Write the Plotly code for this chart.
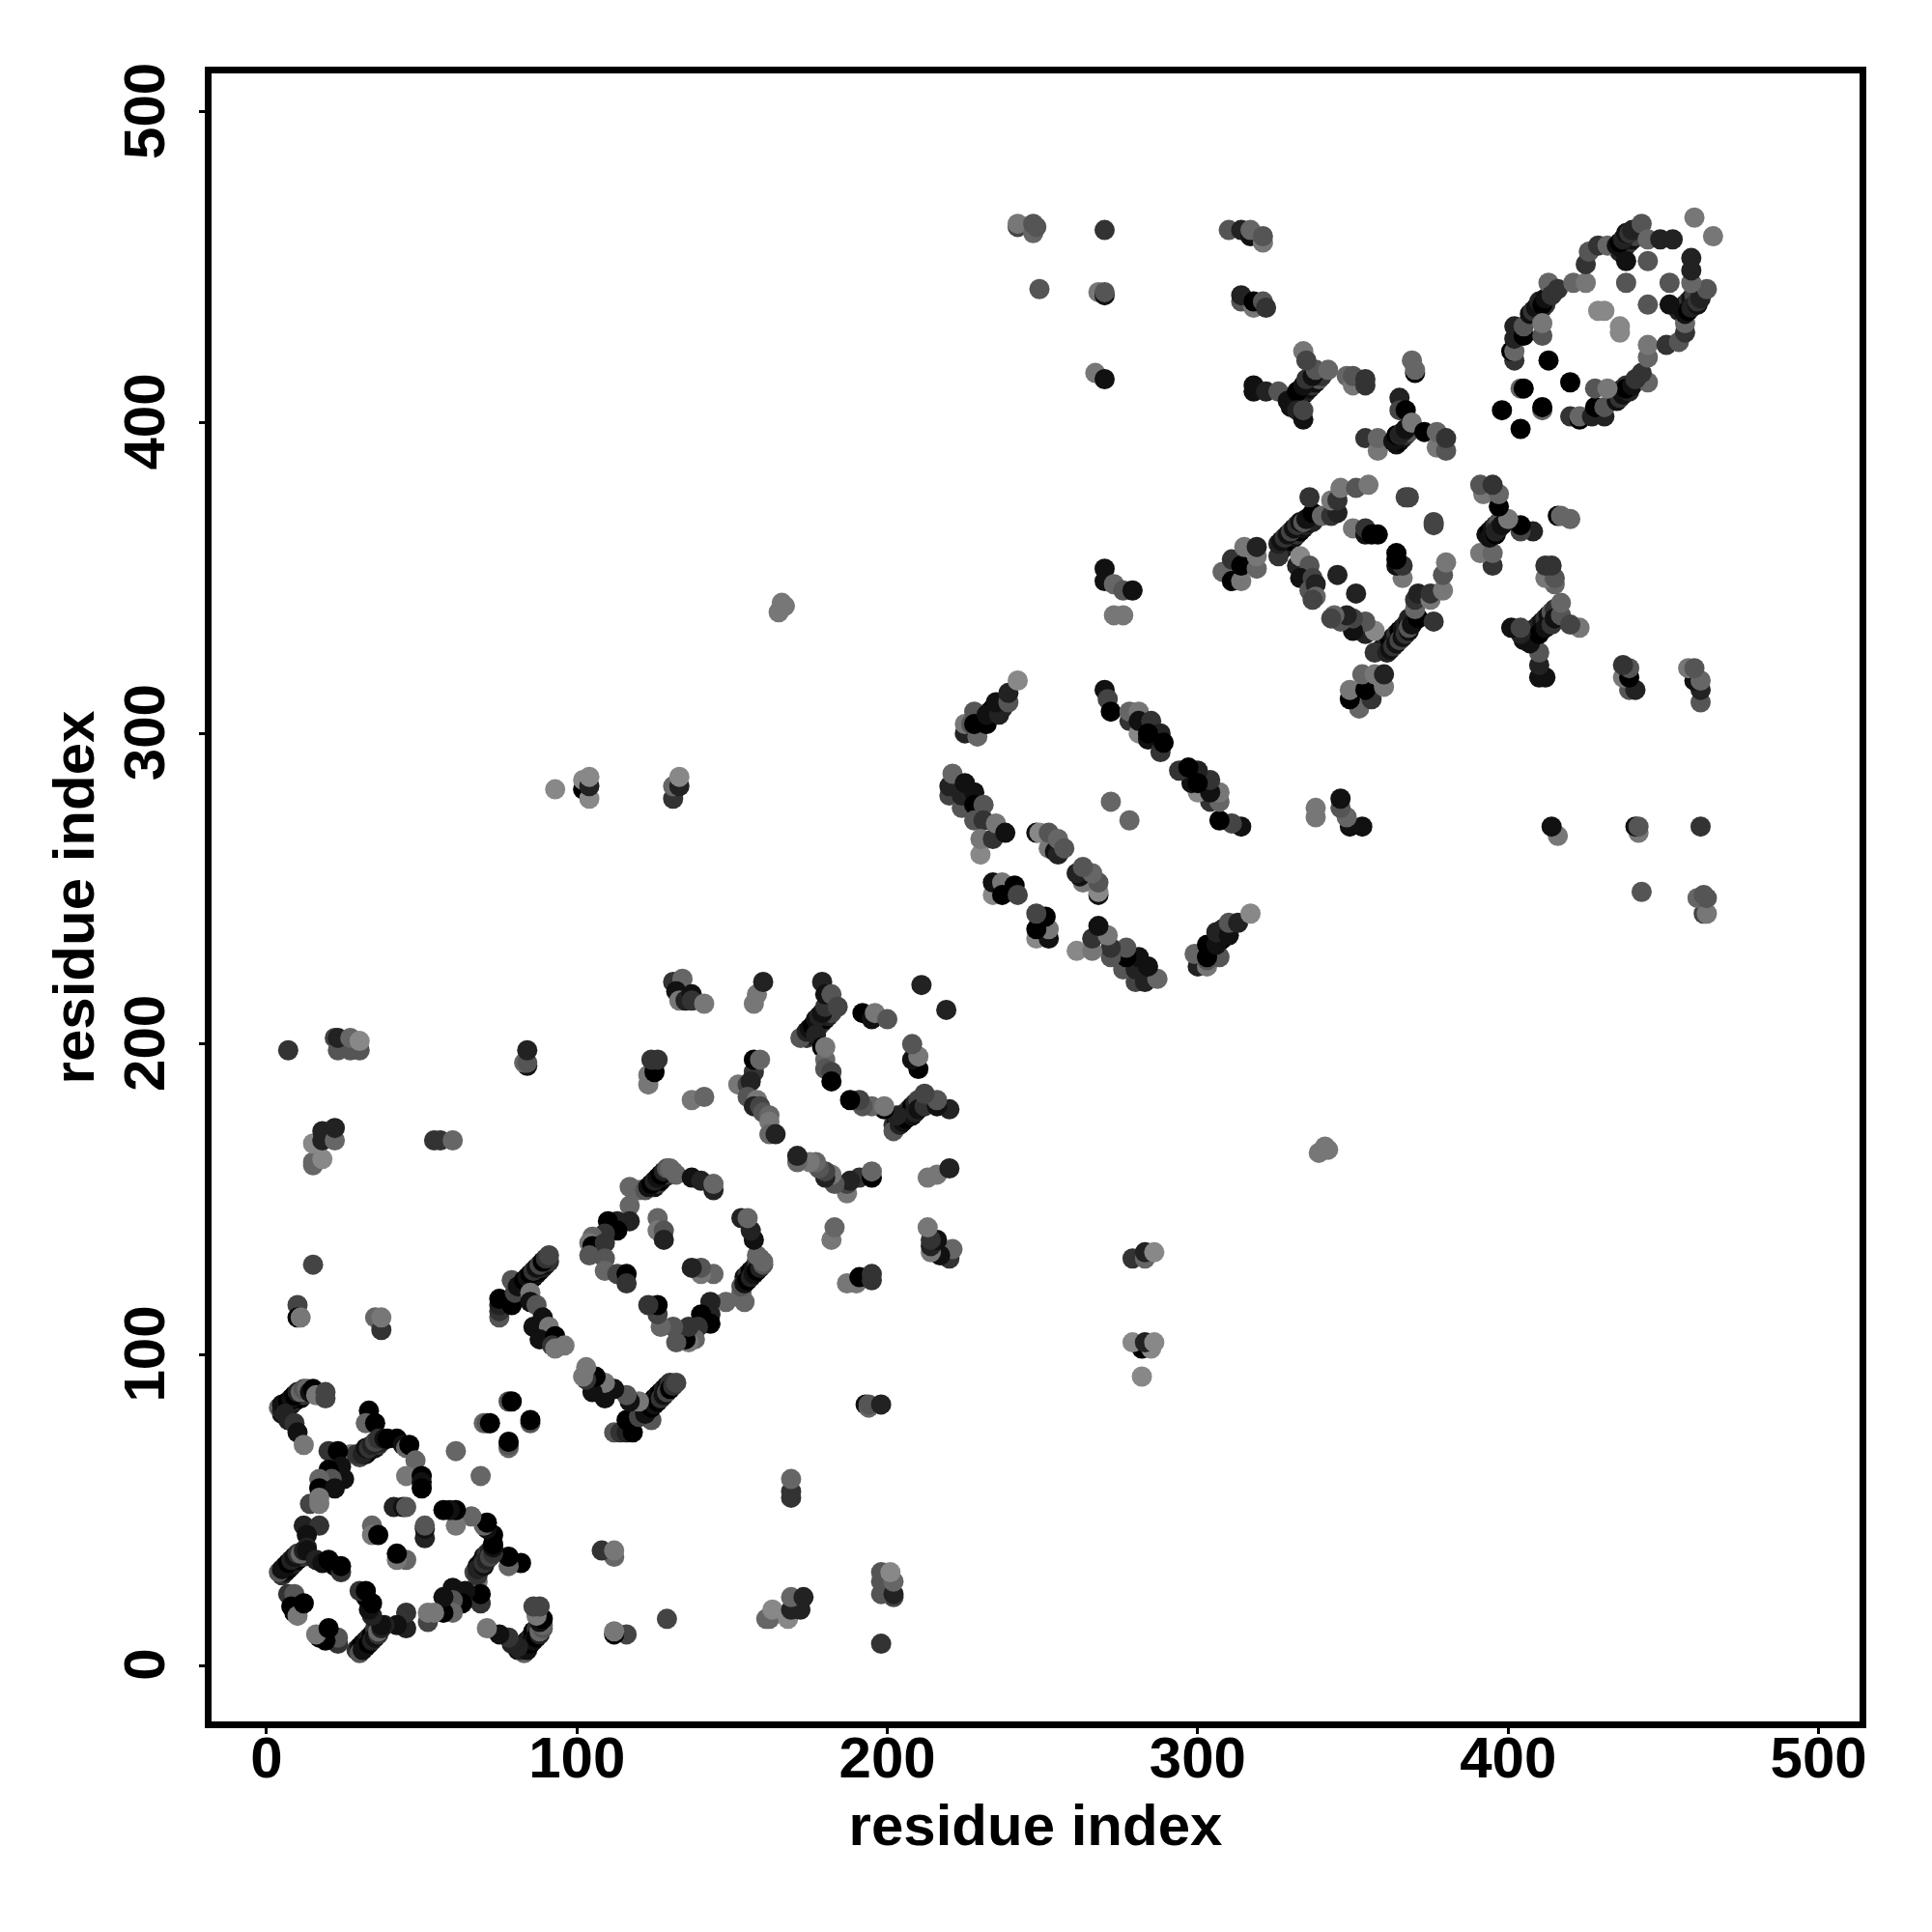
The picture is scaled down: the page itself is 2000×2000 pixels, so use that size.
import plotly.graph_objects as go

# Contact pairs: residue i, residue j (i < j), shade level 0 (black) .. 8 (mid grey).
# Second rows of the thick helix bands
ha_i = [5,6,7,8,9,10,11,12,30,32,33,34,35,36,37]
ha_j = [81,82,83,84,85,86,86,87,67,68,69,70,70,71,72]
ha_s = [1,0,0,1,2,1,0,3,4,1,0,2,1,3,2]
he_i = [5,6,7,8,9,10,11,12,13,84,85,86,87,88,89,90,91]
he_j = [29,30,31,32,33,34,35,35,36,123,124,125,126,127,128,129,130]
he_s = [3,1,0,1,2,0,1,3,2,1,2,0,1,0,2,1,3]
hr_i = [125,126,127,128,129,130,131,174,175,176,177,178,179,180,181,182]
hr_j = [154,155,156,157,158,158,159,202,203,204,205,206,207,208,209,210]
hr_s = [1,3,0,1,2,3,6,3,1,2,0,1,3,0,2,4]
hq_i = [229,230,233,234,235,237]
hq_j = [304,305,307,308,307,308]
hq_s = [1,2,1,0,1,2]
hy_i = [327,328,329,330,331,332,333,334,335,336,337]
hy_j = [359,360,361,362,363,364,365,366,367,368,368]
hy_s = [3,1,2,0,1,3,0,1,2,0,2]
hz_i = [330,331,332,333,334,335,336,337,338,339,340]
hz_j = [405,406,407,408,409,410,411,412,413,414,415]
hz_s = [1,0,1,3,0,2,1,3,1,5,3]
hb_i = [364,365,366,367,368,408,409,410,411,412,436,437,438,439,440,441,442]
hb_j = [393,394,395,396,397,434,435,436,437,438,455,456,457,458,459,460,462]
hb_s = [1,0,1,3,5,1,0,2,1,3,2,0,1,3,1,4,3]

a_i = [4,5,5,6,7,8,9,10,11,12,13,14,15,16,19,19,6,7,9,10,12]
a_j = [83,82,84,84,85,86,87,88,88,89,89,88,89,87,88,86,81,79,78,75,71]
a_s = [6,2,1,1,0,1,0,2,6,5,6,1,0,7,4,4,2,2,3,1,7]
b_i = [33,32,35,27,29,31,32,33,34,35,36,38,39,42,44,45,46,48,45,50,50,50]
b_j = [82,78,78,68,68,68,70,70,71,72,73,73,73,73,71,70,71,66,61,61,59,57]
b_s = [0,6,0,7,3,2,1,3,2,4,3,1,0,0,1,6,0,6,7,0,1,0]
c_i = [20,23,24,25,22,20,21,17,17,22,14,17,17]
c_j = [69,69,64,60,63,63,60,60,57,57,52,54,52]
c_s = [3,0,1,1,1,0,5,6,0,1,4,7,7]
d_i = [41,44,45,34,34,36]
d_j = [51,51,51,45,42,42]
d_s = [2,1,5,6,7,0]
e_i = [12,17,13,4,5,6,7,8,9,10,11,12,13,13,16,18,20,22,24,24]
e_j = [45,45,42,30,31,32,33,34,35,36,36,37,38,37,34,33,34,32,30,32]
e_s = [2,3,1,5,1,1,0,2,1,3,6,2,2,1,2,1,0,0,3,0]
f_i = [7,9,8,9,10,12]
f_j = [23,23,19,17,16,20]
f_s = [3,5,0,0,7,0]
g_i = [61,70,71,72,78,79,15,10,10,11,35,37,37]
g_j = [69,78,78,78,85,85,129,116,112,112,112,108,112]
g_s = [6,6,5,0,5,0,4,4,0,7,6,3,7]
h_i = [75,75,75,75,79,79,80,81,83,84,85,86,87,88,89,90,91,85,85,87,89,86,91,88,93,92,93,96]
h_j = [112,114,116,118,116,124,120,122,124,125,126,127,128,129,130,131,132,120,117,116,112,109,109,105,106,103,102,103]
h_s = [5,3,2,0,0,5,4,1,0,1,0,3,1,4,0,3,4,7,1,5,1,1,7,1,0,3,7,7]
ring_i = [117,120,122,123,124,125,126,127,128,129,130,132,137,140,144,144,117,117,113,113,110,109,105,104,105,109,104,109,109,113,116,116,126,126,128,128]
ring_j = [154,153,153,154,155,156,157,158,159,160,160,158,157,156,153,155,148,143,143,140,143,139,138,136,135,136,132,131,127,126,126,123,144,140,140,137]
ring_s = [6,6,5,1,0,2,1,0,2,5,6,6,1,2,2,6,6,2,2,0,0,3,6,7,0,3,5,5,6,4,0,3,6,7,5,2]
j1_i = [131,134,132,133,135,137,137,141,157,158,160]
j1_j = [220,221,217,214,214,216,214,213,213,216,220]
j1_s = [3,6,1,7,2,1,3,7,7,7,2]
k_i = [172,174,175,176,177,178,179,180,179,180,182,184,177,179,180,180,180,182,182]
k_j = [202,204,205,206,208,209,210,212,220,216,216,212,203,199,195,199,192,191,188]
k_s = [5,2,1,0,1,2,1,3,2,1,5,4,2,0,6,7,5,4,0]
l_i = [192,195,196,200,211,123,123,125,124,126,137,141]
l_j = [210,208,210,208,219,187,190,191,195,195,182,183]
l_s = [0,1,7,5,2,7,7,0,3,3,7,6]
m_i = [157,157,159,152,155,156,155,158,157,159,160,162,162,162,164]
m_j = [191,195,195,187,187,188,183,182,180,180,178,177,175,171,171]
m_s = [3,0,6,7,4,2,5,7,2,4,5,6,7,6,2]
n_i = [7,22,23,27,30,23,27,30,84,83,84,84]
n_j = [198,202,198,198,198,202,202,201,193,194,194,198]
n_s = [3,4,5,5,5,2,6,8,1,6,5,2]
o_i = [15,15,18,15,18,18,22,22,54,56,60]
o_j = [161,162,163,168,169,172,169,173,169,169,169]
o_s = [6,6,8,8,2,2,6,2,3,3,6]
p_i = [93,102,102,104,104,104,131,131,133,133,165,166,167]
p_j = [282,282,285,279,283,286,279,283,283,286,339,342,341]
p_s = [8,0,8,8,2,8,3,6,2,8,7,7,7]
q_i = [225,225,227,229,228,228,232,232,236,235,239,239,242]
q_j = [300,303,303,299,307,303,303,306,306,310,310,313,317]
q_s = [2,7,5,6,5,0,0,1,2,1,5,2,8]
r_i = [270,271,272,278,278,281,281,281,285,288,284,284,288,289]
r_j = [314,311,307,304,307,307,300,304,304,300,298,300,294,297]
r_s = [1,4,0,3,6,7,8,1,3,2,1,0,3,0]
s_i = [220,220,221,224,224,225,228,228,231,228,231,230,230,234,235,238]
s_j = [280,283,287,276,280,284,281,277,277,272,272,261,266,266,271,268]
s_s = [4,2,6,5,2,1,1,0,5,5,3,8,7,3,7,1]
t_i = [248,249,252,254,255,252,255,257,234,234,237,237,241,242,272]
t_j = [268,268,263,262,261,268,266,263,248,252,252,248,251,248,278]
t_s = [1,8,7,1,2,5,6,5,8,1,7,0,0,4,6]
u_i = [267,270,268,270,270,270,249,242,242,247,247,248]
u_j = [416,414,442,441,442,462,443,463,464,461,464,463]
u_s = [7,1,7,1,5,3,5,4,7,6,5,5]
v_i = [270,270,273,276,279,273,276]
v_j = [353,349,348,346,346,338,338]
v_s = [1,1,6,5,1,7,7]
w_i = [310,314,317,317,321,321,314,314,318,318,321,322]
w_j = [462,462,460,462,458,460,439,441,437,439,439,437]
w_s = [5,2,1,6,7,5,5,2,7,0,5,3]
x_i = [308,311,314,311,314,315,319,319,319]
x_j = [352,349,349,356,354,360,353,357,360]
x_s = [6,0,7,3,0,7,6,7,2]
y_i = [326,326,327,328,329,330,331,332,333,334,335,337,336,340,343,345,343,345,346,351,355,332,333,336,333,337,336,338,338,337,345,350,354,354,356,358,367,368]
y_j = [357,361,362,363,364,365,366,367,368,368,369,371,376,370,370,371,375,375,379,379,380,354,357,354,350,350,346,348,344,343,351,366,364,366,364,364,376,376]
y_s = [3,2,1,3,1,4,1,3,1,5,1,0,3,6,3,2,7,3,7,5,7,2,8,5,1,4,5,2,6,4,2,7,1,3,0,0,4,4]
z_i = [318,318,322,326,329,331,332,334,335,337,338,342,334,335,332,334,334,348,350,350,354,354]
z_j = [412,410,410,410,407,408,410,412,414,415,417,417,423,420,404,401,404,415,412,415,412,414]
z_s = [1,1,2,5,1,1,0,1,3,1,5,6,7,4,2,1,4,6,7,5,3,3]
aa_i = [369,370,370,365,365,367,354,358,358,363,364,365,366,367,369,373,377,377,380,380]
aa_j = [420,416,417,408,404,404,395,391,395,394,396,396,397,398,400,397,392,397,391,395]
aa_s = [6,0,6,2,4,0,3,7,6,1,0,2,2,1,7,0,7,6,5,3]
bb_i = [402,401,402,402,402,405,405,407,408,409,410,411,412,411,411,413,414,416,421,425,425,426,429,432,435,436,437,438,439,440,443,445,449,453]
bb_j = [420,423,423,427,431,428,431,435,436,437,439,438,440,428,432,445,441,443,445,445,451,455,457,457,457,458,459,461,461,462,464,459,459,459]
bb_s = [3,0,6,2,2,0,5,1,3,1,2,0,1,5,7,6,3,3,6,7,3,5,3,6,1,0,2,1,3,2,5,6,2,2]
cc_i = [413,404,405,398,429,431,438,445,438,460]
cc_j = [420,411,411,404,436,436,452,452,445,466]
cc_s = [0,6,0,0,8,8,1,5,5,7]

tick_values = [0, 100, 200, 300, 400, 500]
axis_title = "residue index"

blocks = [(ha_i,ha_j,ha_s),(he_i,he_j,he_s),(hr_i,hr_j,hr_s),(hq_i,hq_j,hq_s),(hy_i,hy_j,hy_s),(hz_i,hz_j,hz_s),(hb_i,hb_j,hb_s),
          (a_i,a_j,a_s),(b_i,b_j,b_s),(c_i,c_j,c_s),(d_i,d_j,d_s),(e_i,e_j,e_s),(f_i,f_j,f_s),
          (g_i,g_j,g_s),(h_i,h_j,h_s),(ring_i,ring_j,ring_s),(j1_i,j1_j,j1_s),(k_i,k_j,k_s),
          (l_i,l_j,l_s),(m_i,m_j,m_s),(n_i,n_j,n_s),(o_i,o_j,o_s),(p_i,p_j,p_s),(q_i,q_j,q_s),
          (r_i,r_j,r_s),(s_i,s_j,s_s),(t_i,t_j,t_s),(u_i,u_j,u_s),(v_i,v_j,v_s),(w_i,w_j,w_s),
          (x_i,x_j,x_s),(y_i,y_j,y_s),(z_i,z_j,z_s),(aa_i,aa_j,aa_s),(bb_i,bb_j,bb_s),(cc_i,cc_j,cc_s)]

pairs = []
for n, (bi, bj, bs) in enumerate(blocks):
    assert len(bi) == len(bj) == len(bs), n
    pairs.extend(zip(bi, bj, bs))

# A contact map is symmetric: each pair is drawn on both sides of the diagonal.
xs = [p[0] for p in pairs] + [p[1] for p in pairs]
ys = [p[1] for p in pairs] + [p[0] for p in pairs]
shade = [p[2] for p in pairs] * 2

fig = go.Figure(go.Scatter(
    x=xs, y=ys, mode="markers", showlegend=False, hoverinfo="skip",
    marker=dict(size=21, color=shade, cmin=0, cmax=8, showscale=False,
                colorscale=[[0, "rgb(0,0,0)"], [1, "rgb(136,136,136)"]],
                line=dict(width=0)),
))

font = dict(family="Liberation Sans", size=60, color="black", weight="bold")
axis = dict(tickvals=tick_values, ticks="outside", ticklen=6, tickwidth=3, tickcolor="black",
            showline=True, mirror=True, linewidth=7, linecolor="black",
            showgrid=False, zeroline=False, tickfont=font, automargin=False)

fig.update_layout(
    width=1984, height=1984, autosize=False,
    margin=dict(l=211, r=67, t=68, b=210),
    paper_bgcolor="white", plot_bgcolor="white",
    xaxis=dict(axis, range=[-17.7, 513.2], ticklabelstandoff=-27,
               title=dict(text=axis_title, font=font, standoff=18)),
    yaxis=dict(axis, range=[-18.0, 512.4], tickangle=-90, ticklabelstandoff=12, ticklabelshift=8,
               title=dict(text=axis_title, font=font, standoff=2)),
)

fig.write_html("out.html")
